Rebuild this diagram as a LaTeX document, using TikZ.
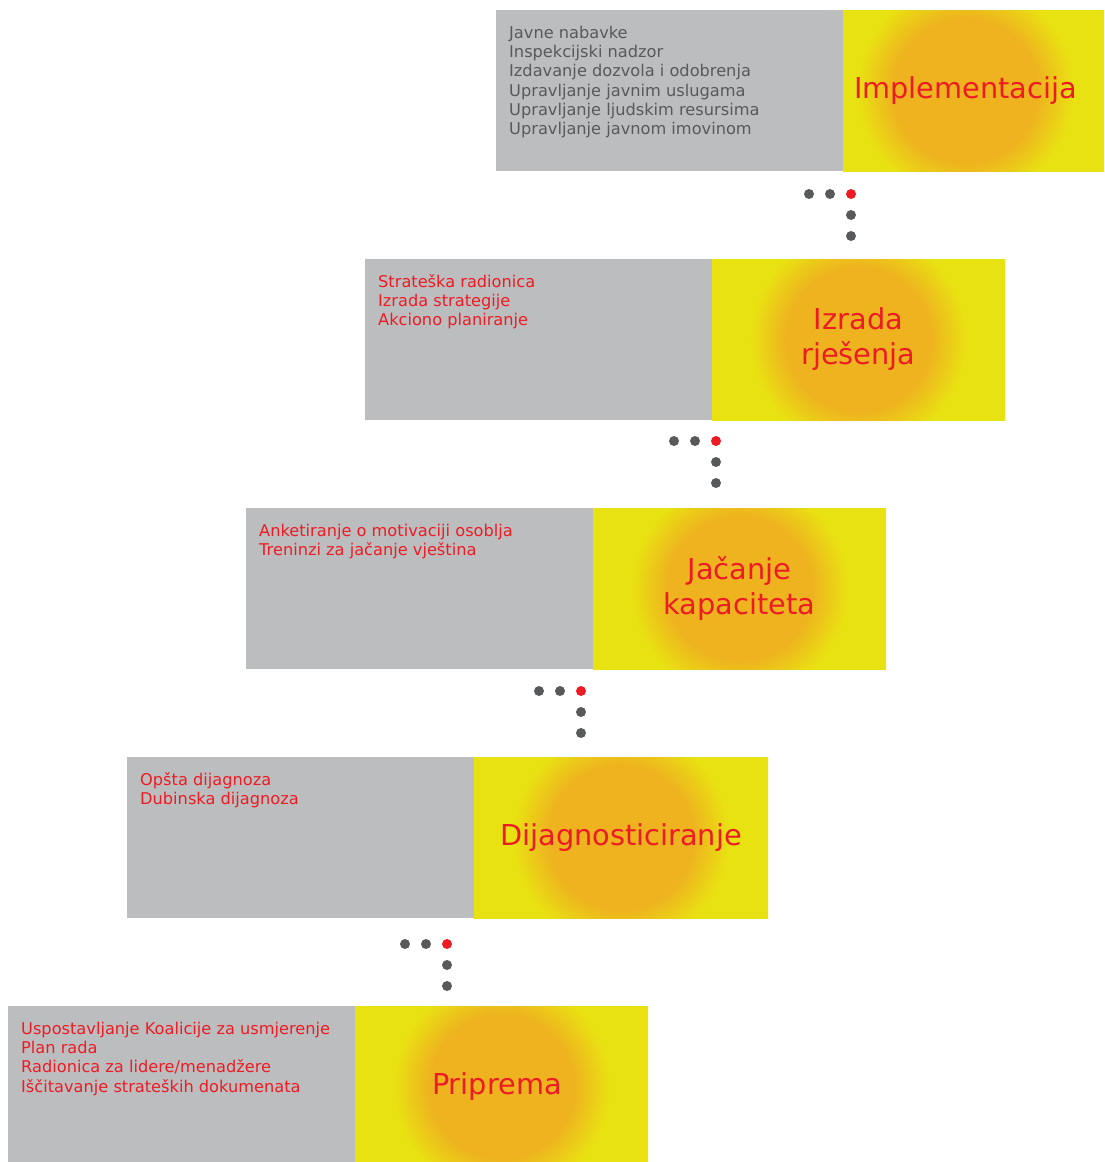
\documentclass[tikz,border=0pt]{standalone}
\usepackage{fontspec}
\setmainfont{DejaVu Sans}
\usetikzlibrary{positioning}

\definecolor{panelgray}{HTML}{BCBDBF}
\definecolor{glowrim}{HTML}{E9E212}
\definecolor{glowcore}{HTML}{EEB31F}
\definecolor{accent}{HTML}{ED1C24}
\definecolor{itemgray}{HTML}{58595B}
\definecolor{dotgray}{HTML}{58595B}

% 25bp is the rim of the shaded circle (200pt)
\pgfdeclareradialshading{glow}{\pgfpoint{0bp}{0bp}}{%
  color(0bp)=(glowcore); color(9bp)=(glowcore);
  color(13.6bp)=(glowrim); color(50bp)=(glowrim)}

\tikzset{
  panel/.style={fill=panelgray, minimum width=347pt, minimum height=161pt,
    inner sep=0pt, outer sep=0pt, anchor=north west},
  glowpanel/.style={fill=glowrim, minimum height=161pt, inner sep=0pt, outer sep=0pt,
    path picture={\shade[shading=glow] ([xshift=\off pt]path picture bounding box.center) circle (200pt);}},
  titletext/.style={align=center, text=accent, inner sep=0pt, font=\fontsize{28.8}{35}\selectfont},
  itemlist/.style={inner sep=0pt, align=left, anchor=north west, font=\fontsize{16.2}{19.3}\selectfont},
  dot/.style={circle, fill=dotgray, inner sep=0pt, minimum size=10pt}
}

\begin{document}
\begin{tikzpicture}[x=1pt, y=-1pt]
  \useasboundingbox (0,0) rectangle (1104,1162);
  \clip (0,0) rectangle (1104,1162);

  % steps, top to bottom
  \foreach \i/\px/\py/\yw/\off/\tc/\items/\title in {
    1/496/10/261/-8/itemgray/{Javne nabavke\\Inspekcijski nadzor\\Izdavanje dozvola i odobrenja\\Upravljanje javnim uslugama\\Upravljanje ljudskim resursima\\Upravljanje javnom imovinom}/{Implementacija},
    2/365/259/293/0/accent/{Strateška radionica\\Izrada strategije\\Akciono planiranje}/{Izrada\\rješenja},
    3/246/508/293/0/accent/{Anketiranje o motivaciji osoblja\\Treninzi za jačanje vještina}/{Jačanje\\kapaciteta},
    4/127/757/294/0/accent/{Opšta dijagnoza\\Dubinska dijagnoza}/{Dijagnosticiranje},
    5/8/1006/293/0/accent/{Uspostavljanje Koalicije za usmjerenje\\Plan rada\\Radionica za lidere/menadžere\\Iščitavanje strateških dokumenata}/{Priprema}
  }{
    \node[panel] (g\i) at (\px,\py) {};
    \node[glowpanel, minimum width=\yw pt, right=0pt of g\i] (y\i) {};
    \node[titletext] (h\i) at ([xshift=\off pt]y\i.center) {\title};
    \node[itemlist, text=\tc] (t\i) at ([xshift=13pt, yshift=-12pt]g\i.north west) {\rule{0pt}{16pt}\items};
  }

  % dots between the steps
  \foreach \k/\dx/\dy in {1/851/194, 2/716/441, 3/581/691, 4/447/944} {
    \node[dot] (a\k) at (\dx-42,\dy) {};
    \node[dot] (b\k) at (\dx-21,\dy) {};
    \node[dot, fill=accent] (c\k) at (\dx,\dy) {};
    \node[dot] (d\k) at (\dx,\dy+21) {};
    \node[dot] (e\k) at (\dx,\dy+42) {};
  }
\end{tikzpicture}
\end{document}
